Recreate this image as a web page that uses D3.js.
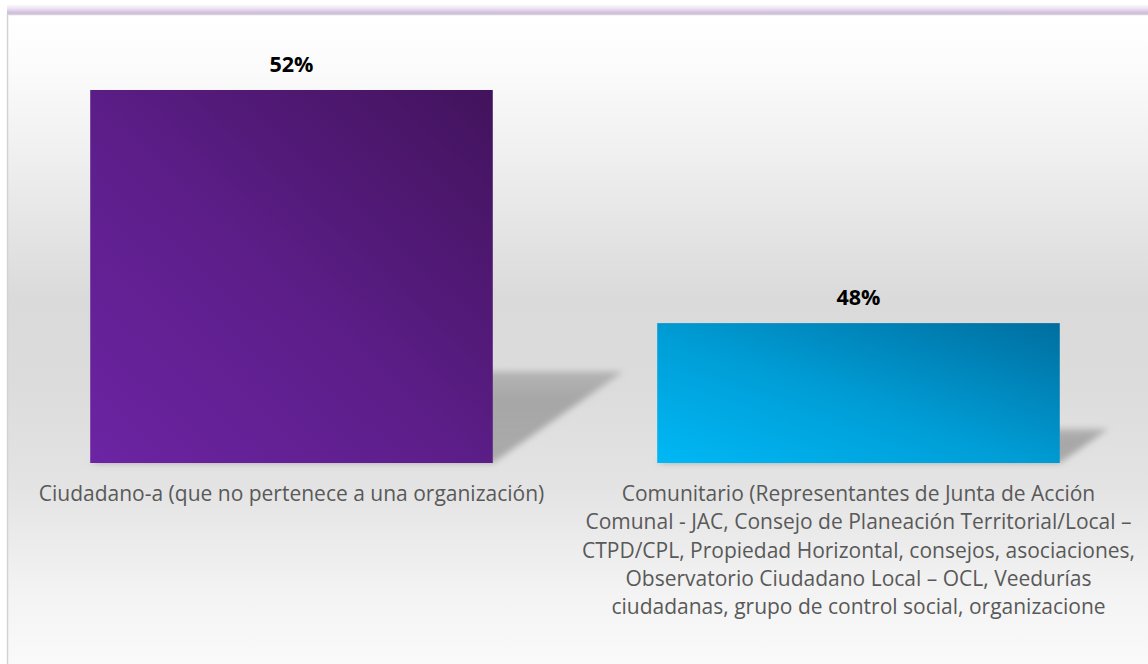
<!DOCTYPE html>
<html>
<head>
<meta charset="utf-8">
<script src="https://cdn.jsdelivr.net/npm/d3@7"></script>
<style>
html,body{margin:0;padding:0;background:#ffffff;}
svg{display:block;}
</style>
</head>
<body>
<svg id="chart" width="1148" height="664"></svg>
<script>
const categories = [
  "Ciudadano-a (que no pertenece a una organización)",
  "Comunitario (Representantes de Junta de Acción Comunal - JAC, Consejo de Planeación Territorial/Local – CTPD/CPL, Propiedad Horizontal, consejos, asociaciones, Observatorio Ciudadano Local – OCL, Veedurías ciudadanas, grupo de control social, organizacione"
];
const categoryLines = [
  ["Ciudadano-a (que no pertenece a una organización)"],
  ["Comunitario (Representantes de Junta de Acción",
   "Comunal - JAC, Consejo de Planeación Territorial/Local –",
   "CTPD/CPL, Propiedad Horizontal, consejos, asociaciones,",
   "Observatorio Ciudadano Local – OCL, Veedurías",
   "ciudadanas, grupo de control social, organizacione"]
];
const values = [52, 48];
const valueLabels = ["52%", "48%"];
const yDomain = [45.6, 53];

const svg = d3.select("#chart");
const defs = svg.append("defs");

const bg = defs.append("linearGradient").attr("id","bgGrad").attr("x1",0).attr("y1",0).attr("x2",0).attr("y2",1);
[[0,"#ffffff"],[0.08,"#fbfbfb"],[0.2,"#f0f0f0"],[0.42,"#dadada"],[0.55,"#dcdcdc"],[0.7,"#e4e4e4"],[0.85,"#f3f3f3"],[1,"#fdfdfd"]]
  .forEach(([o,c]) => bg.append("stop").attr("offset",o).attr("stop-color",c));

const glow = defs.append("linearGradient").attr("id","glowGrad").attr("x1",0).attr("y1",0).attr("x2",0).attr("y2",1);
[[0,"#ffffff"],[0.4,"#ece3f2"],[0.8,"#d2bce2"],[1,"#cdb6df"]]
  .forEach(([o,c]) => glow.append("stop").attr("offset",o).attr("stop-color",c));

const barColors = [
  {light:"#6c24a3", dark:"#42135c"},
  {light:"#00b8f5", dark:"#006e9f"}
];
barColors.forEach((c,i) => {
  const g = defs.append("linearGradient").attr("id","barGrad"+i)
    .attr("x1",0).attr("y1",1).attr("x2",1).attr("y2",0);
  g.append("stop").attr("offset",0).attr("stop-color",c.light);
  g.append("stop").attr("offset",0.45).attr("stop-color",d3.interpolateRgb(c.light,c.dark)(0.35));
  g.append("stop").attr("offset",1).attr("stop-color",c.dark);
});

const blur = defs.append("filter").attr("id","shadowBlur").attr("x","-20%").attr("y","-20%").attr("width","140%").attr("height","140%");
blur.append("feGaussianBlur").attr("stdDeviation",3);
const shGrad = defs.append("linearGradient").attr("id","shadowGrad").attr("x1",0).attr("y1",0).attr("x2",0).attr("y2",1);
shGrad.append("stop").attr("offset",0).attr("stop-color","#a8a8a8").attr("stop-opacity",0.75);
shGrad.append("stop").attr("offset",0.3).attr("stop-color","#a4a4a4").attr("stop-opacity",0.95);
shGrad.append("stop").attr("offset",1).attr("stop-color","#a4a4a4").attr("stop-opacity",0.9);

svg.append("rect").attr("x",7).attr("y",4).attr("width",1160).attr("height",11).attr("fill","url(#glowGrad)");
svg.append("rect").attr("x",7.5).attr("y",14.5).attr("width",1160).attr("height",680)
  .attr("fill","url(#bgGrad)").attr("stroke","#d4d4d4").attr("stroke-width",1.5);

const x = d3.scaleBand().domain(categories).range([8, 1142]).paddingInner(0.29).paddingOuter(0.145);
const y = d3.scaleLinear().domain(yDomain).range([463, 31.7]);

const data = categories.map((c,i) => ({cat:c, v:values[i], label:valueLabels[i], lines:categoryLines[i], i}));

svg.append("g").selectAll("path").data(data).join("path")
  .attr("d", d => {
    const x0 = x(d.cat), x1 = x0 + x.bandwidth(), b = y(yDomain[0]), h = b - y(d.v);
    const dx = 0.35*h, dy = 0.245*h;
    return `M${x0},${b}L${x1},${b}L${x1+dx},${b-dy}L${x0+dx},${b-dy}Z`;
  })
  .attr("fill","url(#shadowGrad)")
  .attr("filter","url(#shadowBlur)");

svg.append("g").selectAll("rect").data(data).join("rect")
  .attr("x", d => x(d.cat))
  .attr("y", d => y(d.v))
  .attr("width", x.bandwidth())
  .attr("height", d => y(yDomain[0]) - y(d.v))
  .attr("fill", d => `url(#barGrad${d.i})`);

svg.append("g").selectAll("text").data(data).join("text")
  .attr("x", d => x(d.cat) + x.bandwidth()/2)
  .attr("y", d => y(d.v) - 18)
  .attr("text-anchor","middle")
  .attr("font-family","'Open Sans', sans-serif")
  .attr("font-weight","bold")
  .attr("font-size","21.5px")
  .attr("fill","#000000")
  .text(d => d.label);

const cl = svg.append("g").selectAll("text").data(data).join("text")
  .attr("x", d => x(d.cat) + x.bandwidth()/2)
  .attr("y", 501)
  .attr("text-anchor","middle")
  .attr("font-family","'Open Sans', sans-serif")
  .attr("font-size","21px")
  .attr("fill","#595959");
cl.selectAll("tspan").data(d => d.lines.map(l => ({l, cx: x(d.cat) + x.bandwidth()/2}))).join("tspan")
  .attr("x", t => t.cx)
  .attr("dy", (t,j) => j === 0 ? 0 : 28.3)
  .text(t => t.l);
</script>
</body>
</html>
